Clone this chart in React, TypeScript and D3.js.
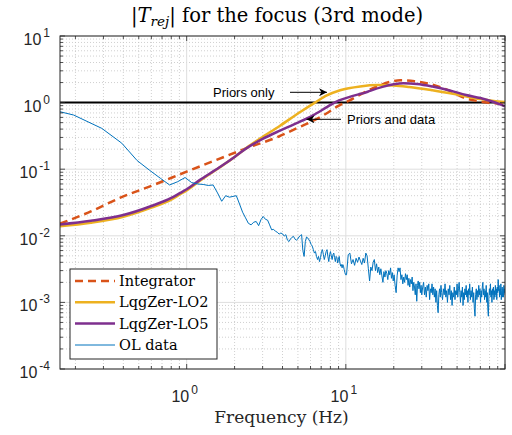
import React from 'react';
import * as d3 from 'd3';

const W = 512;
const H = 435;
const PLOT = { left: 60, right: 505, top: 36, bottom: 369 };

const X_DOMAIN: [number, number] = [0.16, 100];
const Y_DOMAIN: [number, number] = [1e-4, 10];
const X_LABEL_TICKS = [1, 10];
const X_LABEL_EXP = ['0', '1'];
const Y_LABEL_TICKS = [1e-4, 1e-3, 1e-2, 1e-1, 1, 10];
const Y_LABEL_EXP = ['-4', '-3', '-2', '-1', '0', '1'];

const LEGEND_LABELS = ['Integrator', 'LqgZer-LO2', 'LqgZer-LO5', 'OL data'];
const TITLE_MAIN = 'T';
const TITLE_SUB = 'rej';
const TITLE_REST = ' for the focus (3rd mode)';
const X_TITLE = 'Frequency (Hz)';
const ANNOT_1 = 'Priors only';
const ANNOT_2 = 'Priors and data';

const INTEGRATOR: [number, number][] = [
  [0.16, 0.0152], [0.25, 0.0232], [0.38, 0.037], [0.62, 0.058], [1.0, 0.092],
  [1.54, 0.138], [2.38, 0.207], [3.8, 0.31], [5.0, 0.42], [6.0, 0.51],
  [7.5, 0.68], [8.8, 0.87], [10.5, 1.07], [12.9, 1.4], [16, 1.78], [19, 2.05],
  [22, 2.17], [27, 2.1], [34, 1.89], [45, 1.5], [55, 1.19], [68, 1.05],
  [77, 1.0], [100, 0.96],
];

const LO2: [number, number][] = [
  [0.16, 0.0139], [0.25, 0.0157], [0.4, 0.0193], [0.6, 0.0265], [0.8, 0.035],
  [0.91, 0.042], [1.0, 0.048], [1.2, 0.066], [1.6, 0.105], [2.0, 0.152],
  [2.38, 0.21], [2.9, 0.29], [3.86, 0.45], [5.2, 0.73], [6.4, 1.0],
  [7.6, 1.28], [9.2, 1.53], [12.3, 1.75], [16, 1.83], [20, 1.81], [25, 1.72],
  [35, 1.53], [50, 1.32], [70, 1.13], [85, 1.06], [100, 1.02],
];

const LO5: [number, number][] = [
  [0.16, 0.0148], [0.25, 0.0168], [0.4, 0.0205], [0.6, 0.028], [0.8, 0.037],
  [0.91, 0.044], [1.0, 0.05], [1.2, 0.068], [1.6, 0.106], [2.0, 0.153],
  [2.38, 0.207], [3.0, 0.285], [3.86, 0.38], [5.0, 0.5], [6.25, 0.65],
  [7.5, 0.84], [8.6, 1.02], [10, 1.17], [12, 1.33], [13, 1.39], [14.2, 1.5],
  [17, 1.72], [20, 1.88], [23, 1.95], [28, 1.9], [35, 1.74], [45, 1.52],
  [57, 1.3], [70, 1.17], [85, 1.02], [100, 0.88],
];

const OL_LOW: [number, number][] = [
  [0.098, 0.97], [0.195, 0.65], [0.293, 0.41], [0.391, 0.246], [0.488, 0.135],
  [0.586, 0.096], [0.684, 0.073], [0.781, 0.058], [0.879, 0.065], [0.977, 0.075],
  [1.074, 0.063], [1.172, 0.06], [1.27, 0.059], [1.367, 0.057], [1.465, 0.058],
  [1.563, 0.044], [1.66, 0.033], [1.758, 0.04], [1.855, 0.038], [1.953, 0.039],
  [2.051, 0.04], [2.148, 0.03], [2.246, 0.0226], [2.344, 0.0186], [2.441, 0.0154],
  [2.539, 0.0146], [2.637, 0.016], [2.734, 0.0164], [2.832, 0.0142], [2.93, 0.0175],
  [3.027, 0.0195], [3.125, 0.0177], [3.223, 0.0172], [3.32, 0.0146], [3.418, 0.0123],
  [3.516, 0.0125], [3.613, 0.0117], [3.711, 0.0113], [3.809, 0.0106], [3.906, 0.011],
  [4.004, 0.0107], [4.102, 0.0099], [4.199, 0.0104], [4.297, 0.0086], [4.395, 0.0082],
  [4.492, 0.009], [4.59, 0.0095], [4.688, 0.0098], [4.785, 0.009], [4.883, 0.0086],
  [4.98, 0.0089], [5.078, 0.0096], [5.176, 0.0101], [5.273, 0.0104], [5.371, 0.006],
  [5.469, 0.0049], [5.566, 0.0082], [5.664, 0.0096], [5.762, 0.0093], [5.859, 0.0087],
  [5.957, 0.0082], [6.055, 0.0074], [6.152, 0.007], [6.25, 0.0062], [6.348, 0.0055],
  [6.445, 0.0058], [6.543, 0.0049], [6.641, 0.0044], [6.738, 0.0049], [6.836, 0.0041],
  [6.934, 0.0047], [7.031, 0.0058], [7.129, 0.0062], [7.227, 0.0052], [7.324, 0.0044],
  [7.422, 0.005], [7.52, 0.0058], [7.617, 0.0062], [7.715, 0.0049], [7.813, 0.0041],
  [7.91, 0.0052], [8.008, 0.0058], [8.105, 0.005], [8.203, 0.0044], [8.301, 0.0052],
  [8.398, 0.0055], [8.496, 0.0047], [8.594, 0.0041], [8.691, 0.0049], [8.789, 0.0047],
  [8.887, 0.0039], [8.984, 0.0044], [9.082, 0.0049], [9.18, 0.0039], [9.277, 0.0035],
  [9.375, 0.0037], [9.473, 0.0033], [9.57, 0.0037], [9.668, 0.0035], [9.766, 0.0031],
  [9.863, 0.0028], [9.961, 0.0026],
];

const OL_HIGH: [number, number][] = [
  [10.1, 0.0026], [10.35, 0.0052], [10.6, 0.0055], [10.85, 0.0038], [11.1, 0.0044],
  [11.35, 0.0036], [11.6, 0.0046], [11.85, 0.004], [12.1, 0.0048], [12.35, 0.0042],
  [12.6, 0.0037], [12.85, 0.0046], [13.1, 0.0039], [13.35, 0.0055], [13.6, 0.005],
  [13.85, 0.0032], [14.1, 0.0021], [14.35, 0.0034], [14.6, 0.003], [14.85, 0.004],
  [15.1, 0.0044], [15.35, 0.003], [15.6, 0.0038], [15.85, 0.0028], [16.1, 0.0034],
  [16.35, 0.0026], [16.6, 0.0032], [16.85, 0.0025], [17.1, 0.002], [17.35, 0.0029],
  [17.6, 0.0024], [17.85, 0.003], [18.1, 0.0027], [18.35, 0.0022], [18.6, 0.003],
  [18.85, 0.0026], [19.1, 0.0033], [19.35, 0.0023], [19.6, 0.0028], [19.85, 0.0021],
  [20.1, 0.0026], [20.4, 0.0018], [20.7, 0.0014], [21.0, 0.0025], [21.3, 0.0033],
  [21.6, 0.0029], [21.9, 0.0033], [22.2, 0.0022], [22.5, 0.0026], [22.8, 0.0019],
  [23.1, 0.0024], [23.4, 0.002], [23.7, 0.0027], [24.0, 0.0022], [24.3, 0.0026],
  [24.6, 0.0018], [24.9, 0.0023], [25.2, 0.0017], [25.5, 0.0022], [25.8, 0.0019],
  [26.1, 0.0024], [26.4, 0.0015], [26.7, 0.002], [27.0, 0.0017], [27.3, 0.0013],
  [27.6, 0.0019], [27.9, 0.00104], [28.2, 0.0018], [28.5, 0.0021], [28.8, 0.0016],
  [29.1, 0.002], [29.4, 0.0014], [29.7, 0.0018], [30.0, 0.0013], [30.4, 0.0017],
  [30.8, 0.002], [31.2, 0.0013], [31.6, 0.0017], [32.0, 0.0012], [32.4, 0.0018],
  [32.8, 0.0015], [33.2, 0.0019], [33.6, 0.0011], [34.0, 0.0016], [34.4, 0.0014],
  [34.8, 0.0019], [35.2, 0.0013], [35.6, 0.0017], [36.0, 0.0012], [36.4, 0.0016],
  [36.8, 0.001], [37.2, 0.0015], [37.6, 0.0009], [38.0, 0.0007], [38.4, 0.0013],
  [38.8, 0.0016], [39.2, 0.0012], [39.6, 0.0018], [40.0, 0.0014], [40.5, 0.0011],
  [41.0, 0.0016], [41.5, 0.0013], [42.0, 0.0019], [42.5, 0.0012], [43.0, 0.0015],
  [43.5, 0.001], [44.0, 0.0016], [44.5, 0.0013], [45.0, 0.0018], [45.5, 0.0011],
  [46.0, 0.0015], [46.5, 0.0009], [47.0, 0.0014], [47.5, 0.0012], [48.0, 0.0017],
  [48.5, 0.0011], [49.0, 0.0015], [49.5, 0.0013], [50.0, 0.0019], [50.5, 0.0012],
  [51.0, 0.0016], [51.5, 0.002], [52.0, 0.0014], [52.5, 0.001], [53.0, 0.0015],
  [53.5, 0.0012], [54.0, 0.0017], [54.5, 0.0009], [55.0, 0.0014], [55.5, 0.0011],
  [56.0, 0.0016], [56.5, 0.0013], [57.0, 0.0018], [57.5, 0.0012], [58.0, 0.0015],
  [58.5, 0.001], [59.0, 0.0016], [59.5, 0.0013], [60.0, 0.0019], [60.6, 0.0011],
  [61.2, 0.0015], [61.8, 0.0012], [62.4, 0.0017], [63.0, 0.001], [63.6, 0.0014],
  [64.2, 0.0008], [64.8, 0.00062], [65.4, 0.0013], [66.0, 0.0016], [66.6, 0.0011],
  [67.2, 0.0015], [67.8, 0.0012], [68.4, 0.0018], [69.0, 0.0013], [69.6, 0.0016],
  [70.2, 0.001], [70.8, 0.0015], [71.4, 0.0012], [72.0, 0.0017], [72.6, 0.002],
  [73.2, 0.0013], [73.8, 0.0016], [74.4, 0.0011], [75.0, 0.0015], [75.6, 0.0012],
  [76.2, 0.0018], [76.8, 0.001], [77.4, 0.0014], [78.0, 0.0008], [78.6, 0.00062],
  [79.2, 0.0012], [79.8, 0.0016], [80.4, 0.0013], [81.0, 0.0019], [81.6, 0.0012],
  [82.2, 0.0015], [82.8, 0.001], [83.4, 0.0016], [84.0, 0.0013], [84.6, 0.0017],
  [85.2, 0.0011], [85.8, 0.0015], [86.4, 0.0012], [87.0, 0.0018], [87.6, 0.0013],
  [88.2, 0.0016], [88.8, 0.0011], [89.4, 0.0017], [90.0, 0.0014], [90.6, 0.0022],
  [91.2, 0.0015], [91.8, 0.0018], [92.4, 0.0012], [93.0, 0.0016], [93.6, 0.0013],
  [94.2, 0.0019], [94.8, 0.0011], [95.4, 0.0015], [96.0, 0.0017], [96.6, 0.0012],
  [97.2, 0.0016], [97.8, 0.0012], [98.4, 0.0018], [99.0, 0.0014], [99.6, 0.0016],
  [100, 0.0013],
];

const UNITY = 1;

const C_INT = '#D95319';
const C_LO2 = '#EDB120';
const C_LO5 = '#7E2F8E';
const C_OL = '#0072BD';
const AXIS = '#262626';

const SANS = "'Liberation Sans', Arial, Helvetica, sans-serif";
const SERIF = "'DejaVu Serif', 'Liberation Serif', serif";

export default function App() {
  const x = d3.scaleLog().domain(X_DOMAIN).range([PLOT.left, PLOT.right]);
  const y = d3.scaleLog().domain(Y_DOMAIN).range([PLOT.bottom, PLOT.top]);

  const smooth = d3
    .line<[number, number]>()
    .x((d) => x(d[0]))
    .y((d) => y(d[1]))
    .curve(d3.curveMonotoneX);
  const raw = d3
    .line<[number, number]>()
    .x((d) => x(d[0]))
    .y((d) => y(d[1]));

  const OL = OL_LOW.concat(OL_HIGH);

  const xMinor: number[] = [];
  [0.1, 1, 10].forEach((dec) => {
    for (let m = 2; m <= 9; m++) {
      const v = dec * m;
      if (v >= X_DOMAIN[0] && v <= X_DOMAIN[1]) xMinor.push(v);
    }
  });
  const yMinor: number[] = [];
  [1e-4, 1e-3, 1e-2, 1e-1, 1].forEach((dec) => {
    for (let m = 2; m <= 9; m++) yMinor.push(dec * m);
  });
  const xMajor = [1, 10, 100];
  const yMajor = Y_LABEL_TICKS;

  const legendX = 70;
  const legendY = 269;
  const legendRowY = [281, 302.3, 323.5, 345];
  const legendColors = [C_INT, C_LO2, C_LO5, C_OL];
  const legendWidths = [2.5, 2.5, 2.5, 1];

  return (
    <svg
      width={W}
      height={H}
      viewBox={`0 0 ${W} ${H}`}
      style={{ position: 'absolute', left: 0, top: 0, background: '#fff' }}
    >
      <defs>
        <clipPath id="plotclip">
          <rect x={PLOT.left} y={PLOT.top} width={PLOT.right - PLOT.left} height={PLOT.bottom - PLOT.top} />
        </clipPath>
        <marker id="ah" viewBox="0 0 10 10" refX="10" refY="5" markerWidth="10" markerHeight="8" orient="auto" markerUnits="userSpaceOnUse">
          <path d="M0,0 L10,5 L0,10 L3,5 Z" fill="#000" />
        </marker>
      </defs>
      <rect x={0} y={0} width={W} height={H} fill="#fff" />

      {/* minor grid */}
      <g stroke="#c4c4c4" strokeWidth={0.8} strokeDasharray="1,2">
        {xMinor.map((v) => (
          <line key={'xm' + v} x1={x(v)} x2={x(v)} y1={PLOT.top} y2={PLOT.bottom} />
        ))}
        {yMinor.map((v) => (
          <line key={'ym' + v} x1={PLOT.left} x2={PLOT.right} y1={y(v)} y2={y(v)} />
        ))}
      </g>
      {/* major grid */}
      <g stroke="#dedede" strokeWidth={1}>
        {xMajor.map((v) => (
          <line key={'xM' + v} x1={x(v)} x2={x(v)} y1={PLOT.top} y2={PLOT.bottom} />
        ))}
        {yMajor.map((v) => (
          <line key={'yM' + v} x1={PLOT.left} x2={PLOT.right} y1={y(v)} y2={y(v)} />
        ))}
      </g>

      <g clipPath="url(#plotclip)" fill="none">
        <line x1={PLOT.left} x2={PLOT.right} y1={y(UNITY)} y2={y(UNITY)} stroke="#000" strokeWidth={2} />
        <path d={smooth(INTEGRATOR) || ''} stroke={C_INT} strokeWidth={2.5} strokeDasharray="8,5" />
        <path d={smooth(LO2) || ''} stroke={C_LO2} strokeWidth={2.5} />
        <path d={smooth(LO5) || ''} stroke={C_LO5} strokeWidth={2.5} />
        <path d={raw(OL) || ''} stroke={C_OL} strokeWidth={1} strokeLinejoin="round" />
      </g>

      {/* ticks */}
      <g stroke={AXIS} strokeWidth={0.8}>
        {xMajor.map((v) => (
          <g key={'xt' + v}>
            <line x1={x(v)} x2={x(v)} y1={PLOT.bottom} y2={PLOT.bottom - 5} />
            <line x1={x(v)} x2={x(v)} y1={PLOT.top} y2={PLOT.top + 5} />
          </g>
        ))}
        {xMinor.map((v) => (
          <g key={'xtm' + v}>
            <line x1={x(v)} x2={x(v)} y1={PLOT.bottom} y2={PLOT.bottom - 3} />
            <line x1={x(v)} x2={x(v)} y1={PLOT.top} y2={PLOT.top + 3} />
          </g>
        ))}
        {yMajor.map((v) => (
          <g key={'yt' + v}>
            <line x1={PLOT.left} x2={PLOT.left + 5} y1={y(v)} y2={y(v)} />
            <line x1={PLOT.right} x2={PLOT.right - 5} y1={y(v)} y2={y(v)} />
          </g>
        ))}
        {yMinor.map((v) => (
          <g key={'ytm' + v}>
            <line x1={PLOT.left} x2={PLOT.left + 3} y1={y(v)} y2={y(v)} />
            <line x1={PLOT.right} x2={PLOT.right - 3} y1={y(v)} y2={y(v)} />
          </g>
        ))}
      </g>
      <rect x={PLOT.left} y={PLOT.top} width={PLOT.right - PLOT.left} height={PLOT.bottom - PLOT.top} fill="none" stroke={AXIS} strokeWidth={1} />

      {/* tick labels */}
      <g style={{ fontFamily: SANS }} fill={AXIS}>
        {X_LABEL_TICKS.map((v, i) => (
          <text key={'xl' + v} x={x(v) - 2} y={PLOT.bottom + 33} textAnchor="middle" fontSize={16}>
            10<tspan dx={2} dy={-8} fontSize={12}>{X_LABEL_EXP[i]}</tspan>
          </text>
        ))}
        {Y_LABEL_TICKS.map((v, i) => (
          <text key={'yl' + v} x={50} y={y(v) + 9} textAnchor="end" fontSize={16}>
            10<tspan dx={2} dy={-8} fontSize={12}>{Y_LABEL_EXP[i]}</tspan>
          </text>
        ))}
      </g>

      {/* title */}
      <text x={277} y={22} textAnchor="middle" style={{ fontFamily: SERIF }} fontSize={19.5} fill="#000">
        |<tspan fontStyle="italic">{TITLE_MAIN}</tspan>
        <tspan fontStyle="italic" fontSize={13.5} dy={4}>{TITLE_SUB}</tspan>
        <tspan dy={-4}>|{TITLE_REST}</tspan>
      </text>

      {/* x axis title */}
      <text x={281.5} y={423} textAnchor="middle" style={{ fontFamily: SERIF }} fontSize={17} fill={AXIS}>
        {X_TITLE}
      </text>

      {/* annotations */}
      <text x={213} y={97} style={{ fontFamily: SANS }} fontSize={13} fill="#000">{ANNOT_1}</text>
      <line x1={290} y1={92.3} x2={327} y2={92.3} stroke="#000" strokeWidth={1} markerEnd="url(#ah)" />
      <text x={347} y={124} style={{ fontFamily: SANS }} fontSize={13} fill="#000">{ANNOT_2}</text>
      <line x1={341} y1={119.3} x2={306.5} y2={119.3} stroke="#000" strokeWidth={1} markerEnd="url(#ah)" />

      {/* legend */}
      <rect x={legendX} y={legendY} width={147} height={90} fill="#fff" stroke={AXIS} strokeWidth={1} />
      {LEGEND_LABELS.map((lab, i) => (
        <g key={lab}>
          <line
            x1={75}
            x2={115}
            y1={legendRowY[i]}
            y2={legendRowY[i]}
            stroke={legendColors[i]}
            strokeWidth={legendWidths[i]}
            strokeDasharray={i === 0 ? '8,5' : undefined}
          />
          <text x={119} y={legendRowY[i] + 5} style={{ fontFamily: SERIF }} fontSize={14.5} fill="#000">
            {lab}
          </text>
        </g>
      ))}
    </svg>
  );
}
